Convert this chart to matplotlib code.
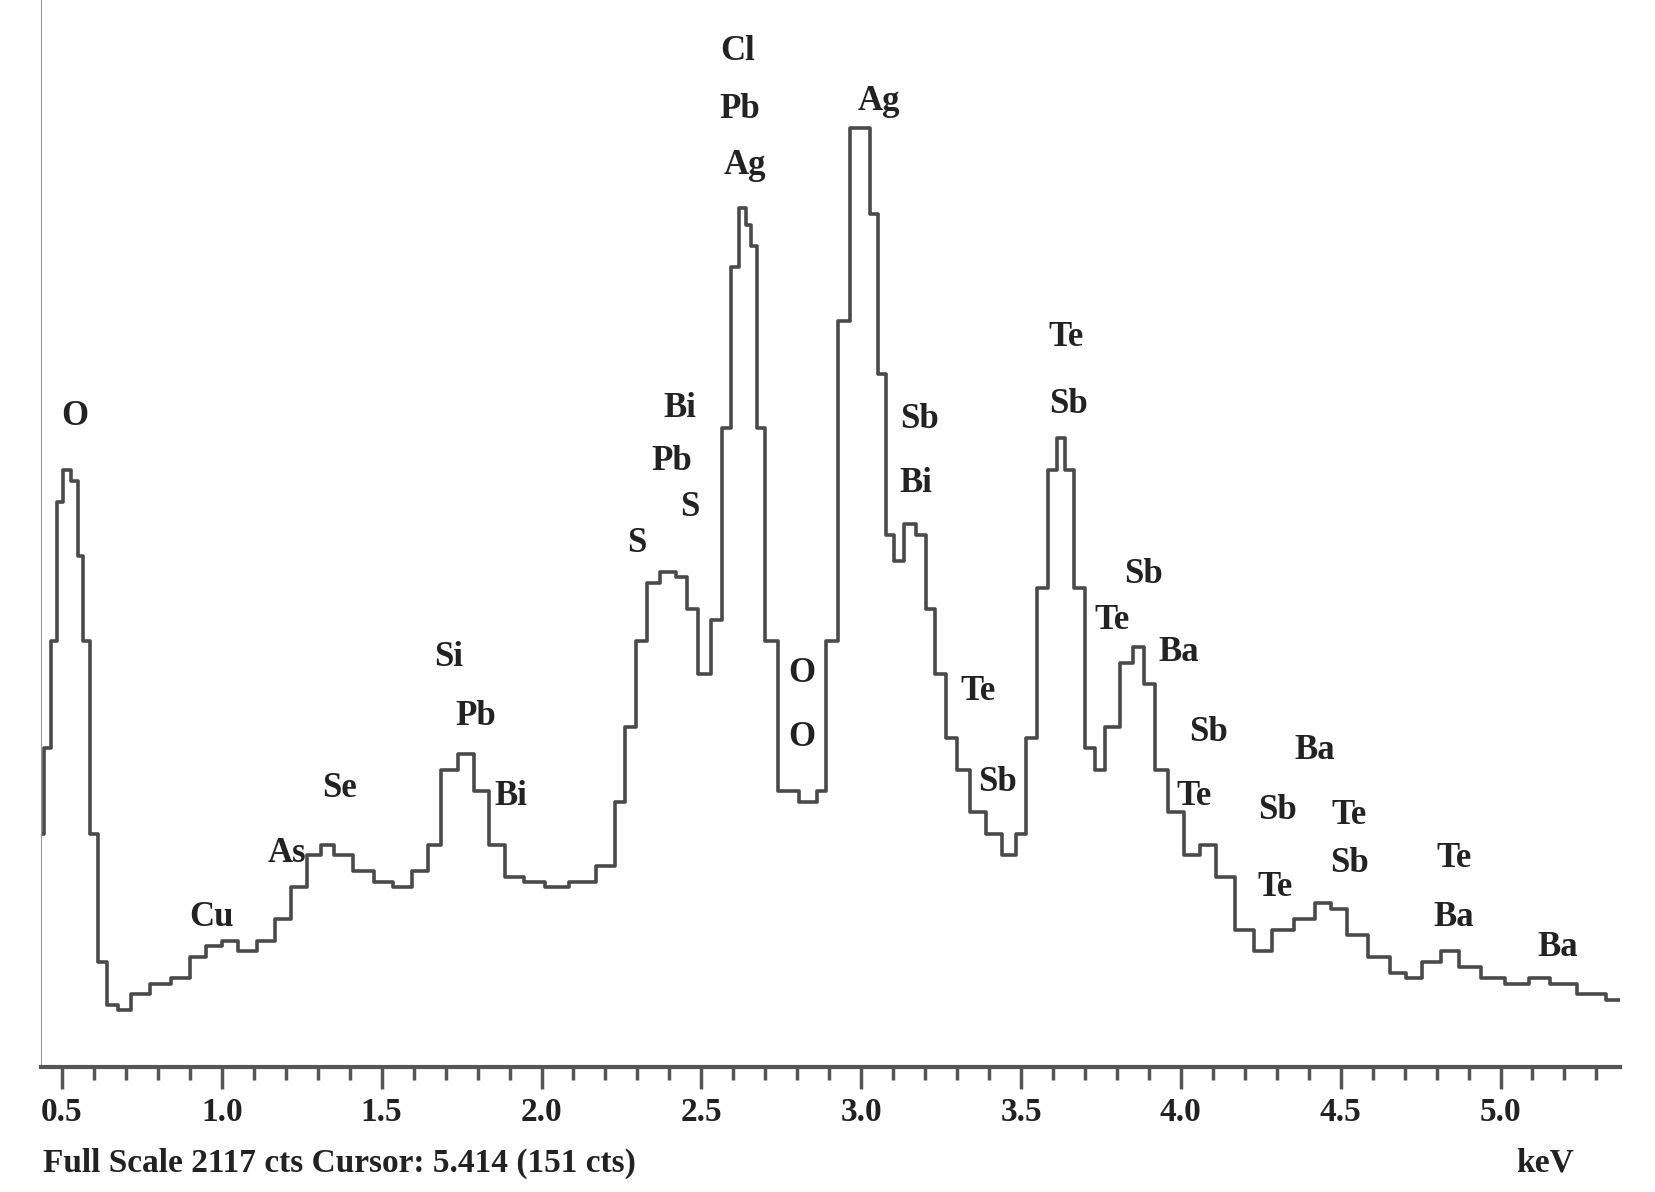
import matplotlib
matplotlib.use("Agg")
import matplotlib.pyplot as plt
import numpy as np

# spectrum trace (display px -> keV / cts)
px = [38,45,50,56,62,70,75,80,88,95,105,115,130,150,170,185,200,215,230,250,265,280,295,305,320,340,360,375,395,405,420,437,450,465,480,500,520,545,570,580,590,600,610,625,640,645,660,670,680,687,695,700,705,712,720,735,760,768,778,790,800,810,818,825,832,840,852,862,870,880,890,900,915,930,945,955,965,975,985,993,1000,1010,1020,1028,1040,1055,1065,1075,1085,1100,1115,1130,1145,1165,1180,1200,1220,1240,1250,1270,1290,1310,1320,1340,1355,1375,1395,1420,1440,1460,1490,1515]
py = [780,700,600,470,440,450,520,600,780,900,940,945,930,920,915,895,885,880,890,880,860,830,800,790,800,815,825,830,815,790,720,705,740,790,820,825,830,825,810,750,680,600,545,535,540,570,630,580,400,250,195,210,230,400,600,740,750,740,600,300,120,120,200,350,500,525,490,500,570,630,690,720,760,780,800,780,690,550,440,410,440,550,700,720,680,620,605,640,720,760,800,790,820,870,890,870,860,845,850,875,895,910,915,900,890,905,915,920,915,920,930,935]
kev = [0.5 + (x - 58) / 299 for x in px]
cts = [(998 - y) * 2.12 for y in py]

labels = ["O","Cu","As","Se","Si","Pb","Bi","S","Bi","Pb","S","Cl","Pb","Ag","O","O","Ag","Sb","Bi","Te","Sb","Te","Sb","Sb","Te","Ba","Sb","Te","Ba","Sb","Te","Sb","Te","Te","Ba","Ba"]
lx = [70,198,268,318,420,445,478,596,636,628,645,690,692,697,750,750,822,860,857,915,933,997,999,1070,1040,1103,1130,1117,1230,1195,1262,1262,1193,1360,1360,1457]
ly = [390,858,798,738,615,670,745,508,382,432,475,48,102,155,630,690,95,392,452,647,732,316,378,537,580,610,685,745,702,758,763,808,830,803,858,886]
lab_kev = [0.5 + (x - 58) / 299 for x in lx]
lab_cts = [(998 - y) * 2.12 for y in ly]

W, H = 1548, 1115
fig = plt.figure(figsize=(16.55, 11.92), dpi=100)
ax = fig.add_axes([38/W, 1-998/H, (1515-38)/W, 998/H])
xmin = 0.5 + (38-58)/299
xmax = 0.5 + (1515-58)/299
ax.set_xlim(xmin, xmax)
ax.set_ylim(0, 998*2.12)
ax.step(kev, cts, where="mid", color="#4a4a4a", lw=2.6)
font = dict(family="Liberation Serif", fontweight="bold", fontsize=25, color="#222222")
for t, x, y in zip(labels, lab_kev, lab_cts):
    ax.text(x, y, t, ha="center", va="center", **font)
for s in ["top", "right"]:
    ax.spines[s].set_visible(False)
ax.spines["left"].set_color("#999999")
ax.spines["bottom"].set_color("#555555")
ax.spines["bottom"].set_linewidth(3)
ax.set_yticks([])
ax.set_xticks(np.arange(0.5, 5.01, 0.5))
ax.set_xticks(np.arange(0.5, 5.36, 0.1), minor=True)
ax.tick_params(axis="x", which="major", length=16, width=2.5, color="#555555", direction="out", pad=6)
ax.tick_params(axis="x", which="minor", length=9, width=2.5, color="#555555", direction="out")
ax.set_xticklabels(["0.5","1.0","1.5","2.0","2.5","3.0","3.5","4.0","4.5","5.0"],
                   family="Liberation Serif", fontsize=24, fontweight="bold", color="#222222")
fig.text(40/W, 1-1088/H, "Full Scale 2117 cts Cursor: 5.414 (151 cts)", family="Liberation Serif",
         fontsize=24, fontweight="bold", color="#222222", va="center", ha="left")
fig.text(1445/W, 1-1088/H, "keV", family="Liberation Serif", fontsize=24, fontweight="bold",
         color="#222222", va="center", ha="center")
fig.savefig("out.png", dpi=100, facecolor="white")
